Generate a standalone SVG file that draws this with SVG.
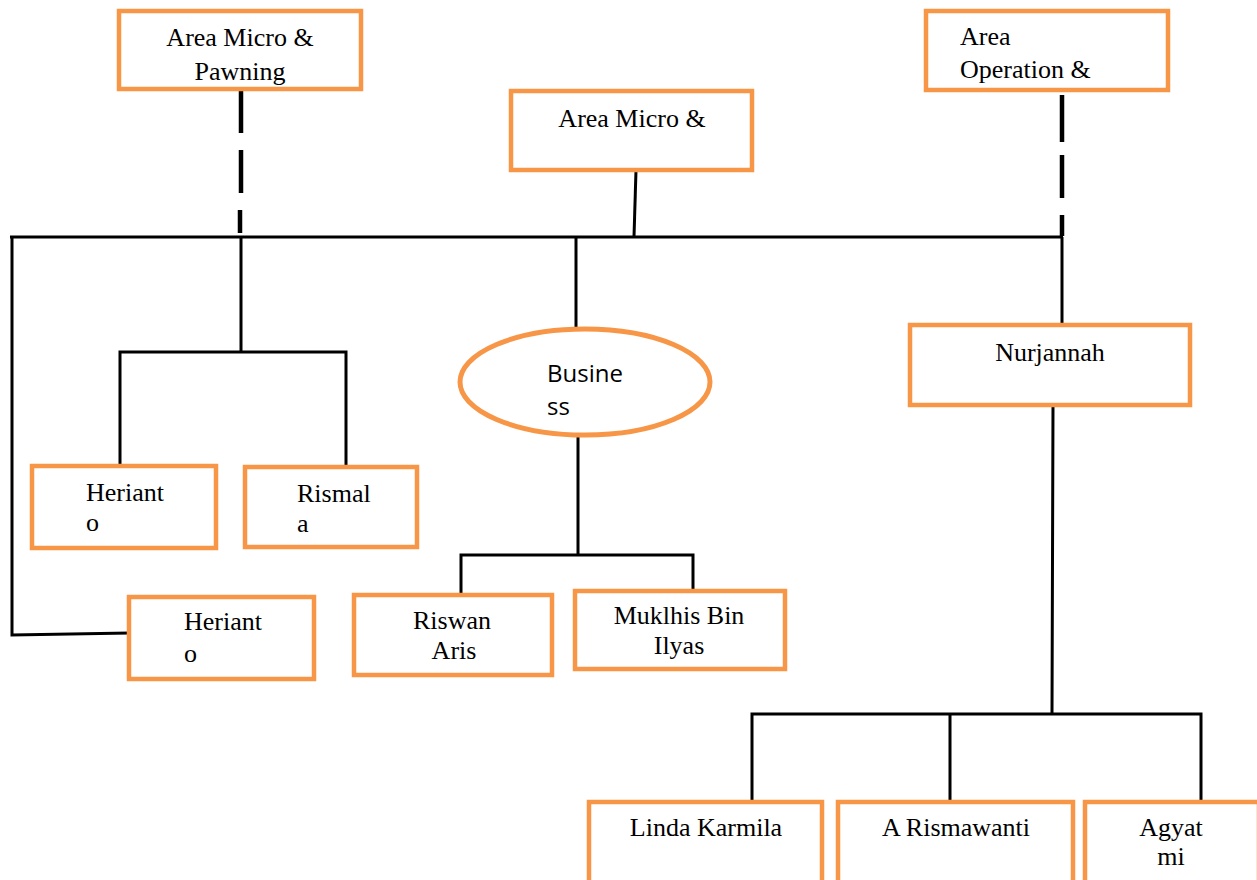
<svg xmlns="http://www.w3.org/2000/svg" width="1257" height="880" viewBox="0 0 1257 880">
<style>
.box{fill:#fff;stroke:#F79646;stroke-width:4.5}
.oval{fill:#fff;stroke:#F79646;stroke-width:5}
.t{font-family:"Liberation Serif","Times New Roman",serif;font-size:26px;fill:#000}
.s{font-family:"Open Sans","Noto Sans",sans-serif;font-size:24px;fill:#000}
.c{text-anchor:middle}
.ln{fill:none;stroke:#000;stroke-width:3}
.dash{fill:none;stroke:#000;stroke-width:4.5}
</style>
<rect width="1257" height="880" fill="#fff"/>
<g id="connectors">
<path class="dash" d="M241,90V133M241,150V193M240,210V233"/>
<path class="dash" d="M1062,95V142M1062,155V198M1062,215V236"/>
<path class="ln" d="M636,170L634,237"/>
<path class="ln" d="M10,237H1063"/>
<path class="ln" d="M12,237V635L130,633"/>
<path class="ln" d="M241,237V352M120,467V352H346V466"/>
<path class="ln" d="M576,237V327"/>
<path class="ln" d="M578,437V554M461,596V555H693V591"/>
<path class="ln" d="M1062,237V326"/>
<path class="ln" d="M1053,405L1052,713M752,802V714H1201V802M950,714V803"/>
</g>
<g id="area-micro-pawning"><rect class="box" x="119" y="11" width="242" height="78"/><text class="t c" x="240" y="46">Area Micro &amp;</text><text class="t c" x="240" y="80">Pawning</text></g>
<g id="area-operation"><rect class="box" x="926" y="11" width="242" height="79"/><text class="t" x="960" y="45">Area</text><text class="t" x="960" y="78">Operation &amp;</text></g>
<g id="area-micro"><rect class="box" x="511" y="91" width="241" height="79"/><text class="t c" x="632" y="127">Area Micro &amp;</text></g>
<g id="business"><ellipse class="oval" cx="585" cy="382" rx="125" ry="53"/><text class="s" x="547" y="382">Busine</text><text class="s" x="547" y="415">ss</text></g>
<g id="nurjannah"><rect class="box" x="910" y="325" width="280" height="80"/><text class="t c" x="1050" y="361">Nurjannah</text></g>
<g id="herianto-1"><rect class="box" x="32" y="466" width="184" height="82"/><text class="t" x="86" y="501">Heriant</text><text class="t" x="86" y="531">o</text></g>
<g id="rismala"><rect class="box" x="245" y="467" width="172" height="80"/><text class="t" x="297" y="502">Rismal</text><text class="t" x="297" y="532">a</text></g>
<g id="herianto-2"><rect class="box" x="129" y="597" width="185" height="82"/><text class="t" x="184" y="630">Heriant</text><text class="t" x="184" y="662">o</text></g>
<g id="riswan-aris"><rect class="box" x="354" y="595" width="198" height="80"/><text class="t c" x="452" y="629">Riswan</text><text class="t c" x="454" y="659">Aris</text></g>
<g id="mukhlis"><rect class="box" x="575" y="591" width="210" height="78"/><text class="t c" x="679" y="624">Muklhis Bin</text><text class="t c" x="679" y="654">Ilyas</text></g>
<g id="linda"><rect class="box" x="589" y="802" width="233" height="82"/><text class="t c" x="706" y="836">Linda Karmila</text></g>
<g id="rismawanti"><rect class="box" x="838" y="802" width="235" height="82"/><text class="t c" x="956" y="836">A Rismawanti</text></g>
<g id="agyatmi"><rect class="box" x="1085" y="802" width="174" height="82"/><text class="t c" x="1171" y="836">Agyat</text><text class="t c" x="1171" y="865">mi</text></g>
</svg>
